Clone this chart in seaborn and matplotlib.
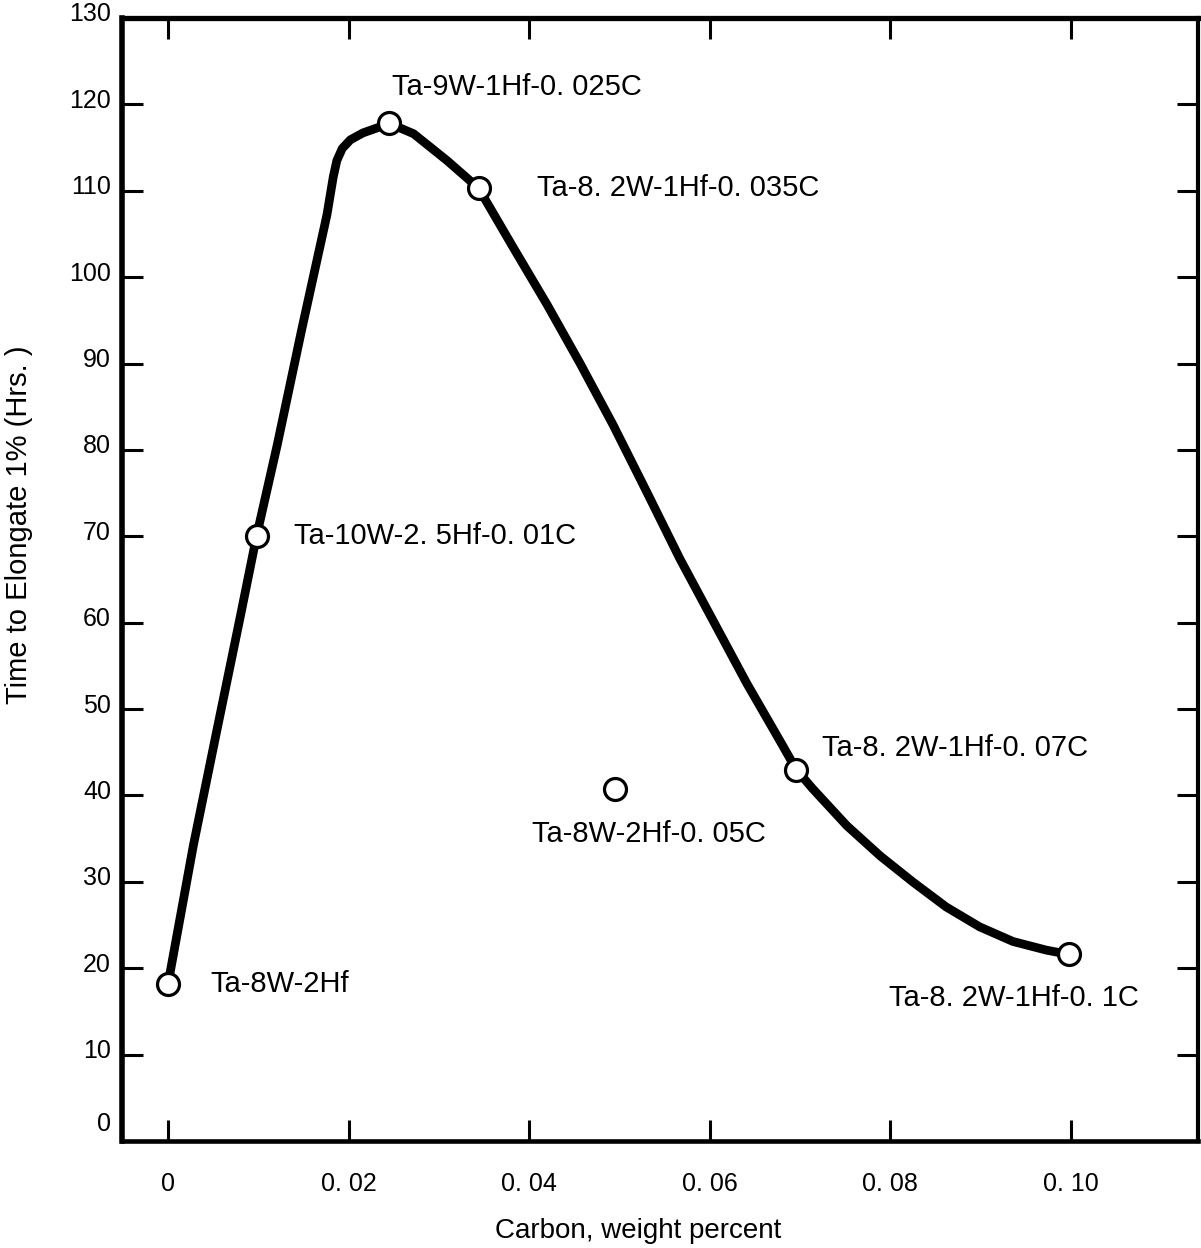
import seaborn as sns
import matplotlib.pyplot as plt
import matplotlib.transforms as mtransforms
import pandas as pd

sns.set_style("ticks")
plt.rcParams['font.family'] = ['Liberation Sans', 'DejaVu Sans']
plt.rcParams['text.color'] = 'black'
plt.rcParams['axes.labelcolor'] = 'black'
plt.rcParams['xtick.color'] = 'black'
plt.rcParams['ytick.color'] = 'black'

# measured alloys: carbon content (wt %) vs time to 1% elongation (hrs)
carbon = [0.0, 0.0098, 0.0245, 0.0344, 0.0495, 0.0696, 0.0998]
hours = [18.2, 70.0, 117.8, 110.3, 40.8, 43.0, 21.6]
alloys = ["Ta-8W-2Hf", "Ta-10W-2. 5Hf-0. 01C", "Ta-9W-1Hf-0. 025C",
          "Ta-8. 2W-1Hf-0. 035C", "Ta-8W-2Hf-0. 05C", "Ta-8. 2W-1Hf-0. 07C",
          "Ta-8. 2W-1Hf-0. 1C"]

# hand drawn trend curve
curve_x = [0.0, 0.0028, 0.0054, 0.0080, 0.0098, 0.0121, 0.0148, 0.0176, 0.0183,
           0.0187, 0.0193, 0.0202, 0.0216, 0.0235, 0.0245, 0.0272, 0.0309, 0.0344,
           0.0382, 0.0420, 0.0456, 0.0493, 0.0530, 0.0567, 0.0604, 0.0641,
           0.0678, 0.0696, 0.0714, 0.0752, 0.0789, 0.0825, 0.0862, 0.0899,
           0.0936, 0.0973, 0.0998]
curve_y = [18.2, 34.2, 47.5, 60.7, 70.0, 80.6, 93.9, 107.2, 111.6,
           113.5, 114.9, 115.9, 116.7, 117.4, 117.8, 116.6, 113.5, 110.3,
           103.5, 96.8, 90.1, 82.9, 75.2, 67.4, 60.2, 53.0,
           46.3, 43.0, 40.8, 36.5, 33.0, 30.0, 27.1, 24.8,
           23.1, 22.1, 21.6]

xticks = [0, 0.02, 0.04, 0.06, 0.08, 0.10]
xticklabels = ["0", "0. 02", "0. 04", "0. 06", "0. 08", "0. 10"]
yticks = list(range(0, 131, 10))

pts = pd.DataFrame({"carbon": carbon, "hours": hours, "alloy": alloys})
curve = pd.DataFrame({"x": curve_x, "y": curve_y})

fig, ax = plt.subplots(figsize=(12.01, 12.48), dpi=100)
fig.subplots_adjust(left=0.1016, right=0.9975, bottom=0.0857, top=0.9856)

sns.lineplot(data=curve, x="x", y="y", sort=False, color="black", lw=6.3,
             solid_capstyle="round", solid_joinstyle="round", ax=ax, zorder=2)
sns.scatterplot(data=pts, x="carbon", y="hours", s=250, color="white",
                edgecolor="black", linewidth=2.3, ax=ax, zorder=3)

# label offsets in pixels (dx, dy, ha)
offsets = [(42, 0, "left"), (37, 0, "left"), (3, 36, "left"), (58, 0, "left"),
           (34, -45, "center"), (26, 22, "left"), (-55, -44, "center")]
for (x, y, name), (dx, dy, ha) in zip(zip(carbon, hours, alloys), offsets):
    ax.annotate(name, (x, y), xytext=(dx, dy), textcoords="offset pixels",
                ha=ha, va="center", fontsize=21)

ax.set_xlim(-0.0051, 0.1141)
ax.set_ylim(0, 130)
ax.set_xticks(xticks)
ax.set_xticklabels(xticklabels)
ax.set_yticks(yticks)
ax.tick_params(direction="in", length=15, width=2.2, labelsize=18,
               top=True, right=True)
ax.tick_params(axis="x", pad=22)
ax.tick_params(axis="y", pad=8)

for side, w in [("left", 4.0), ("top", 3.8), ("bottom", 3.3), ("right", 3.0)]:
    ax.spines[side].set_linewidth(w)
    ax.spines[side].set_color("black")

# scanned labels sit a little above their ticks
shift = mtransforms.ScaledTranslation(0, 0.06, fig.dpi_scale_trans)
extra = mtransforms.ScaledTranslation(0, 0.14, fig.dpi_scale_trans)
for i, lab in enumerate(ax.get_yticklabels()):
    t = lab.get_transform() + shift
    if i == 0:
        t = t + extra
    lab.set_transform(t)

ax.set_xlabel("Carbon, weight percent", fontsize=20)
ax.set_ylabel("Time to Elongate 1% (Hrs. )", fontsize=21)
ax.xaxis.set_label_coords(0.4796, -0.0686)
ax.yaxis.set_label_coords(-0.0827, 0.5485)

plt.savefig("out.png", dpi=100)
